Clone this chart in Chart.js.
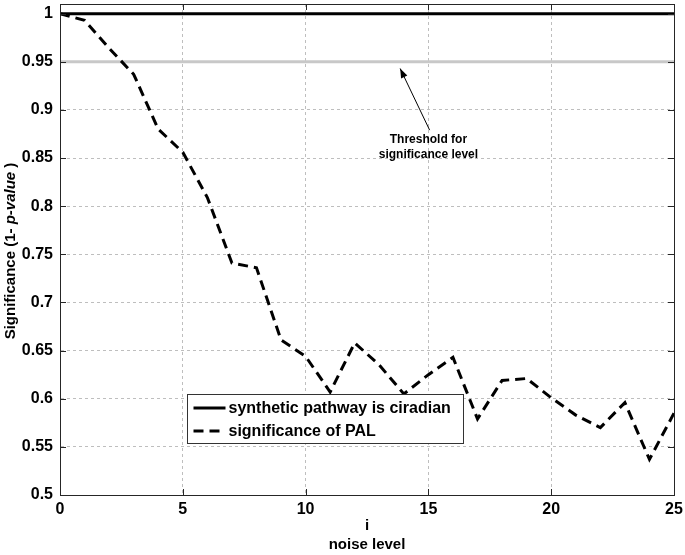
<!DOCTYPE html>
<html>
<head>
<meta charset="utf-8">
<script src="https://cdn.jsdelivr.net/npm/chart.js@4.4.1/dist/chart.umd.min.js"></script>
<style>
  html, body { margin: 0; padding: 0; background: #fff; }
</style>
</head>
<body>
<canvas id="chart" width="685" height="555"></canvas>
<script>
// data
const noiseLevels = [0, 1, 2, 3, 4, 5, 6, 7, 8, 9, 10, 11, 12, 13, 14, 15, 16, 17, 18, 19, 20, 21, 22, 23, 24, 25];
const palSignificance = [1.0, 0.993, 0.964, 0.937, 0.880, 0.856, 0.809, 0.741, 0.736, 0.661, 0.644, 0.607, 0.658, 0.635,
  0.605, 0.625, 0.643, 0.579, 0.619, 0.621, 0.601, 0.583, 0.570, 0.596, 0.537, 0.585];
const circadianX = [0, 25];
const circadianValues = [1, 1];
const thresholdValues = [0.95, 0.95];
const xTickValues = [0, 5, 10, 15, 20, 25];
const yTickValues = [0.5, 0.55, 0.6, 0.65, 0.7, 0.75, 0.8, 0.85, 0.9, 0.95, 1];

const legendLabels = ['synthetic pathway is ciradian', 'significance of PAL'];
const annotationLines = ['Threshold for', 'significance level'];

const FONT = '"Liberation Sans", Arial, Helvetica, sans-serif';

const toPoints = (xs, ys) => xs.map((x, i) => ({ x: x, y: ys[i] }));

// box, inward ticks, legend, arrow note and axis titles
const extras = {
  id: 'extras',
  afterDraw(chart) {
    const { ctx, chartArea: a, scales: { x, y } } = chart;
    ctx.save();

    // axes box
    ctx.strokeStyle = '#262626';
    ctx.lineWidth = 1;
    ctx.strokeRect(Math.round(a.left) + 0.5, Math.round(a.top) + 0.5,
      Math.round(a.right - a.left), Math.round(a.bottom - a.top));

    // inward ticks
    ctx.beginPath();
    xTickValues.forEach(v => {
      const px = Math.round(x.getPixelForValue(v)) + 0.5;
      ctx.moveTo(px, a.bottom); ctx.lineTo(px, a.bottom - 6);
      ctx.moveTo(px, a.top); ctx.lineTo(px, a.top + 6);
    });
    yTickValues.forEach(v => {
      const py = Math.round(y.getPixelForValue(v)) + 0.5;
      ctx.moveTo(a.left, py); ctx.lineTo(a.left + 6, py);
      ctx.moveTo(a.right, py); ctx.lineTo(a.right - 6, py);
    });
    ctx.stroke();

    // legend
    const lx = 187.5, ly = 394.5, lw = 276, lh = 49;
    ctx.fillStyle = '#fff';
    ctx.fillRect(lx, ly, lw, lh);
    ctx.strokeStyle = '#333';
    ctx.lineWidth = 1;
    ctx.strokeRect(lx, ly, lw, lh);
    const rows = [ly + 13.5, ly + 36.5];
    ctx.font = 'bold 16px ' + FONT;
    ctx.textBaseline = 'middle';
    ctx.textAlign = 'left';
    legendLabels.forEach((label, i) => {
      const ds = chart.data.datasets.find(d => d.label === label);
      ctx.strokeStyle = ds.borderColor;
      ctx.lineWidth = 3;
      ctx.setLineDash(ds.borderDash || []);
      ctx.beginPath();
      ctx.moveTo(lx + 6, rows[i]);
      ctx.lineTo(lx + 38, rows[i]);
      ctx.stroke();
      ctx.setLineDash([]);
      ctx.fillStyle = '#000';
      ctx.fillText(label, lx + 41, rows[i] + 1);
    });

    // threshold note with arrow
    const tail = { x: x.getPixelForValue(15.05), y: y.getPixelForValue(0.879) };
    const head = { x: x.getPixelForValue(13.85), y: y.getPixelForValue(0.943) };
    ctx.strokeStyle = '#000';
    ctx.lineWidth = 1;
    ctx.beginPath();
    ctx.moveTo(tail.x, tail.y);
    ctx.lineTo(head.x, head.y);
    ctx.stroke();
    const ang = Math.atan2(head.y - tail.y, head.x - tail.x);
    ctx.beginPath();
    ctx.moveTo(head.x, head.y);
    ctx.lineTo(head.x - 10 * Math.cos(ang - 0.35), head.y - 10 * Math.sin(ang - 0.35));
    ctx.lineTo(head.x - 10 * Math.cos(ang + 0.35), head.y - 10 * Math.sin(ang + 0.35));
    ctx.closePath();
    ctx.fillStyle = '#000';
    ctx.fill();
    ctx.font = 'bold 12px ' + FONT;
    ctx.textAlign = 'center';
    const noteX = x.getPixelForValue(15);
    ctx.fillText(annotationLines[0], noteX, y.getPixelForValue(0.869));
    ctx.fillText(annotationLines[1], noteX, y.getPixelForValue(0.853));

    // x axis title
    const midX = (a.left + a.right) / 2;
    ctx.font = 'bold 15px ' + FONT;
    ctx.fillText('i', midX, 526);
    ctx.fillText('noise level', midX, 545);

    // y axis title, "p-value" in italics
    const parts = [
      { t: 'Significance (1- ', f: 'bold 15px ' + FONT },
      { t: 'p-value', f: 'italic bold 15px ' + FONT },
      { t: ' )', f: 'bold 15px ' + FONT }
    ];
    let total = 0;
    parts.forEach(p => { ctx.font = p.f; p.w = ctx.measureText(p.t).width; total += p.w; });
    ctx.translate(15, 251);
    ctx.rotate(-Math.PI / 2);
    ctx.textAlign = 'left';
    ctx.textBaseline = 'alphabetic';
    let cx = -total / 2;
    parts.forEach(p => { ctx.font = p.f; ctx.fillText(p.t, cx, 0); cx += p.w; });

    ctx.restore();
  }
};

new Chart(document.getElementById('chart'), {
  type: 'line',
  data: {
    datasets: [
      {
        label: 'significance of PAL',
        data: toPoints(noiseLevels, palSignificance),
        borderColor: '#000',
        borderWidth: 3,
        borderDash: [10, 6],
        pointRadius: 0,
        tension: 0,
        order: 0
      },
      {
        label: 'synthetic pathway is ciradian',
        data: toPoints(circadianX, circadianValues),
        borderColor: '#000',
        borderWidth: 3,
        pointRadius: 0,
        order: 1
      },
      {
        label: 'threshold',
        data: toPoints(circadianX, thresholdValues),
        borderColor: '#c8c8c8',
        borderWidth: 3,
        pointRadius: 0,
        order: 2
      }
    ]
  },
  options: {
    responsive: false,
    animation: false,
    devicePixelRatio: 1,
    layout: { padding: { top: 4, right: 11, left: 0, bottom: 0 } },
    plugins: {
      legend: { display: false },
      tooltip: { enabled: false }
    },
    scales: {
      x: {
        type: 'linear',
        min: 0,
        max: 25,
        afterBuildTicks: s => { s.ticks = xTickValues.map(v => ({ value: v })); },
        afterFit: s => { s.height = 60; s.paddingLeft = 0; s.paddingRight = 0; },
        ticks: {
          color: '#000',
          font: { family: FONT, size: 16, weight: 'bold' },
          padding: 5,
          maxRotation: 0
        },
        grid: { color: '#bebebe', lineWidth: 1, drawTicks: false },
        border: { display: true, color: '#262626', width: 1, dash: [3, 3] }
      },
      y: {
        type: 'linear',
        min: 0.5,
        max: 1.01,
        afterBuildTicks: s => { s.ticks = yTickValues.map(v => ({ value: v })); },
        afterFit: s => { s.width = 60; s.paddingTop = 0; s.paddingBottom = 0; },
        ticks: {
          color: '#000',
          font: { family: FONT, size: 16, weight: 'bold' },
          padding: 7,
          callback: v => String(+(+v).toFixed(2))
        },
        grid: { color: '#bebebe', lineWidth: 1, drawTicks: false },
        border: { display: true, color: '#262626', width: 1, dash: [3, 3] }
      }
    }
  },
  plugins: [extras]
});
</script>
</body>
</html>
